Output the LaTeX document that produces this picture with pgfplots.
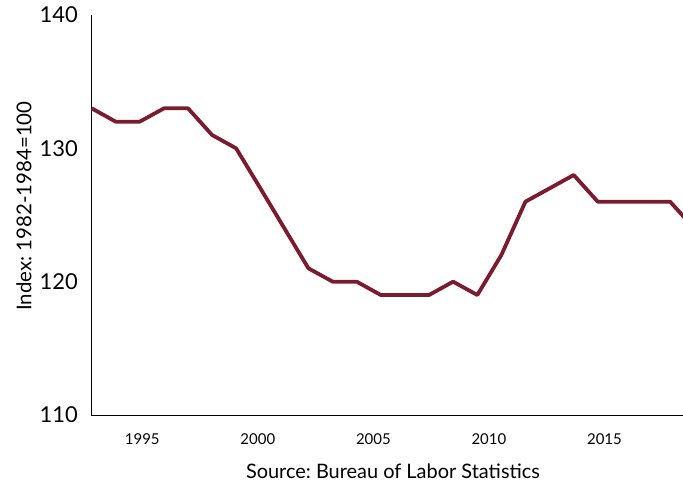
\documentclass[border=0pt]{standalone}
\usepackage{fontspec}
\setmainfont{Lato}
\usepackage{pgfplots}
\pgfplotsset{compat=1.18}
\frenchspacing

\definecolor{maroon}{HTML}{7B1C2E}

\begin{document}
\begin{tikzpicture}
\begin{axis}[
  scale only axis,
  width=592bp, height=400bp,
  xmin=1992.78, xmax=2018.40,
  ymin=110, ymax=140,
  axis x line=bottom, axis y line=left,
  axis line style={black, line width=0.9bp, -},
  major tick length=0pt,
  xtick={1995,2000,2005,2010,2015},
  ytick={110,120,130,140},
  /pgf/number format/assume math mode=true,
  /pgf/number format/1000 sep={},
  xticklabel style={font=\fontsize{15}{18}\selectfont, inner sep=0pt, anchor=north, yshift=-18bp},
  yticklabel style={font=\fontsize{22}{26}\selectfont, inner sep=0pt, anchor=east, xshift=-13bp},
  xlabel={Source: Bureau of Labor Statistics},
  xlabel style={font=\fontsize{20}{24}\selectfont, inner sep=0pt, at={(rel axis cs:0.5,0)}, anchor=center, xshift=6bp, yshift=-56.5bp},
  ylabel={Index: 1982-1984=100},
  ylabel style={font=\fontsize{20.5}{24}\selectfont, inner sep=0pt, at={(rel axis cs:0,0.5225)}, anchor=center, rotate=0, yshift=67bp},
  clip=true,
]
\coordinate (ll) at (rel axis cs:0,0);
\coordinate (ur) at (rel axis cs:1,1);
\addplot[maroon, line width=3.8bp, line join=round, mark=none] coordinates {
  (1992.81,133) (1993.85,132) (1994.89,132) (1995.94,133) (1996.98,133)
  (1998.02,131) (1999.06,130) (2000.11,127) (2001.15,124) (2002.19,121)
  (2003.24,120) (2004.28,120) (2005.32,119) (2006.37,119) (2007.41,119)
  (2008.45,120) (2009.50,119) (2010.54,122) (2011.58,126) (2012.63,127)
  (2013.67,128) (2014.71,126) (2015.76,126) (2016.80,126) (2017.84,126)
  (2018.89,124)
};
\end{axis}
\pgfresetboundingbox
\path[use as bounding box] ([shift={(-91bp,-69bp)}]ll) rectangle ([shift={(0bp,15bp)}]ur);
\end{tikzpicture}
\end{document}
